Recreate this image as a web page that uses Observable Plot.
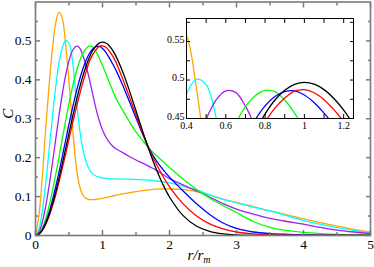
<!DOCTYPE html>
<html><head><meta charset="utf-8">
<script src="https://cdn.jsdelivr.net/npm/d3@7"></script>
<script src="https://cdn.jsdelivr.net/npm/@observablehq/plot@0.6"></script>
<style>
body{margin:0;background:#fff;}
#wrap{position:relative;width:374px;height:267px;overflow:hidden;}
#wrap svg{position:absolute;font-family:"Liberation Serif","Times New Roman",serif;}
</style></head><body><div id="wrap"></div>
<script>
const r = [0,0.05,0.1,0.15,0.2,0.25,0.3,0.35,0.4,0.45,0.5,0.55,0.6,0.65,0.7,0.75,0.8,0.85,0.9,0.95,1.0,1.05,1.1,1.15,1.2,
  1.3,1.4,1.5,1.6,1.7,1.8,1.9,2.0,2.2,2.4,2.6,2.8,3.0,3.25,3.5,3.75,4.0,4.25,4.5,4.75,5.0];
const blackC = [0,0.0034,0.0134,0.0297,0.0519,0.0793,0.111,0.1464,0.1842,0.2234,0.263,0.302,0.3393,0.3741,0.4056,0.433,0.4559,0.474,0.4868,0.4945,0.497,0.4946,0.4875,0.4761,0.4609,
  0.4213,0.373,0.3204,0.2673,0.217,0.1715,0.1319,0.099,0.0517,0.0245,0.0106,0.0042,0.0016,0.0004,0.0001,0,0,0,0,0,0];
const redC = [0,0.0031,0.0124,0.0276,0.0483,0.0738,0.1035,0.137,0.1725,0.2095,0.2475,0.2855,0.322,0.3565,0.389,0.4175,0.445,0.4635,0.4765,0.4855,0.4875,0.4835,0.4745,0.4615,0.4455,
  0.403,0.357,0.31,0.263,0.221,0.185,0.153,0.125,0.082,0.051,0.03,0.017,0.009,0.004,0.0017,0.0007,0.0003,0,0,0,0];
const blueC = [0,0.0038,0.0151,0.0335,0.0583,0.0888,0.124,0.1624,0.203,0.2447,0.286,0.3257,0.3627,0.396,0.4248,0.4484,0.4664,0.4787,0.485,0.486,0.4805,0.4705,0.457,0.4415,0.425,
  0.387,0.345,0.302,0.26,0.222,0.193,0.17,0.15,0.115,0.082,0.054,0.032,0.018,0.009,0.005,0.003,0.0018,0.001,0.0006,0.0003,0.0002];
const greenC = [0,0.0049,0.0194,0.0428,0.0742,0.1121,0.155,0.201,0.248,0.295,0.3395,0.3798,0.415,0.4437,0.4655,0.4797,0.4865,0.485,0.474,0.457,0.437,0.416,0.394,0.373,0.353,
  0.322,0.293,0.266,0.244,0.223,0.206,0.19,0.175,0.145,0.119,0.096,0.077,0.059,0.036,0.021,0.013,0.008,0.005,0.003,0.002,0.001];
const purpleC = [0,0.0085,0.0335,0.073,0.124,0.183,0.245,0.307,0.3634,0.4118,0.449,0.474,0.486,0.484,0.466,0.439,0.405,0.366,0.328,0.296,0.271,0.253,0.24,0.23,0.223,
  0.213,0.203,0.194,0.186,0.177,0.168,0.157,0.146,0.13,0.115,0.099,0.082,0.068,0.055,0.044,0.036,0.029,0.021,0.014,0.009,0.005];
const cyanC = [0,0.0159,0.0615,0.1304,0.2135,0.3,0.379,0.443,0.482,0.501,0.494,0.452,0.365,0.285,0.228,0.192,0.171,0.159,0.153,0.15,0.148,0.147,0.146,0.1455,0.145,
  0.145,0.145,0.144,0.143,0.142,0.14,0.138,0.135,0.127,0.117,0.105,0.093,0.084,0.073,0.063,0.051,0.038,0.029,0.02,0.013,0.007];
const orangeC = [0,0.05,0.145,0.27,0.38,0.475,0.545,0.574,0.558,0.49,0.395,0.285,0.19,0.133,0.106,0.096,0.0925,0.092,0.0925,0.094,0.0955,0.0975,0.0995,0.1015,0.1035,
  0.107,0.11,0.113,0.1155,0.1175,0.119,0.1195,0.1195,0.118,0.113,0.104,0.093,0.085,0.074,0.063,0.053,0.043,0.033,0.024,0.016,0.009];

const seriesNames = ["orange","cyan","purple","green","blue","red","black"];
const seriesValues = [orangeC, cyanC, purpleC, greenC, blueC, redC, blackC];
const seriesColors = ["#ffa500","#00ffff","#a020f0","#00ff00","#0000ff","#ff0000","#000000"];

const xMajor = [0,1,2,3,4,5];
const xMinor = [0.5,1.5,2.5,3.5,4.5];
const yMajor = [0,0.1,0.2,0.3,0.4,0.5];
const yMinor = [0.05,0.15,0.25,0.35,0.45,0.55];
const yLabels = ["0","0.1","0.2","0.3","0.4","0.5"];

const insetXTicks = [0.4,0.5,0.6,0.7,0.8,0.9,1.0,1.1,1.2];
const insetXLabelVals = [0.4,0.6,0.8,1.0,1.2];
const insetXLabels = ["0.4","0.6","0.8","1","1.2"];
const insetYTicks = [0.45,0.475,0.5,0.525,0.55,0.575];
const insetYLabelVals = [0.45,0.5,0.55];
const insetYLabels = ["0.45","0.5","0.55"];

const tables = seriesNames.map((s, k) => r.map((x, i) => ({r: x, C: seriesValues[k][i]})));
const lineMarks = () => tables.map((t, k) =>
  Plot.line(t, {x: "r", y: "C", stroke: seriesColors[k], strokeWidth: 1.3, curve: "catmull-rom", clip: true}));

const frameGray = "#7a7a7a";
const blank = () => "";

const main = Plot.plot({
  width: 374, height: 267,
  marginLeft: 35, marginRight: 4, marginTop: 1.5, marginBottom: 32,
  x: {domain: [0, 5], label: null},
  y: {domain: [0, 0.6], label: null},
  style: {fontFamily: "Liberation Serif, serif", fontSize: "13.5px", background: "transparent", color: "black"},
  marks: [
    ...lineMarks(),
    Plot.frame({stroke: frameGray, strokeWidth: 1.6}),
    Plot.axisX(xMajor, {anchor: "bottom", tickSize: -5, tickPadding: 9, stroke: frameGray, strokeWidth: 1.5, fill: "black", label: null, tickFormat: d => String(d)}),
    Plot.axisX(xMinor, {anchor: "bottom", tickSize: -3, stroke: frameGray, strokeWidth: 1.5, label: null, tickFormat: blank}),
    Plot.axisX(xMajor, {anchor: "top", tickSize: -5, stroke: frameGray, strokeWidth: 1.5, label: null, tickFormat: blank}),
    Plot.axisX(xMinor, {anchor: "top", tickSize: -3, stroke: frameGray, strokeWidth: 1.5, label: null, tickFormat: blank}),
    Plot.axisY(yMajor, {anchor: "left", tickSize: -5, tickPadding: 9, stroke: frameGray, strokeWidth: 1.5, fill: "black", label: null, tickFormat: (d, i) => yLabels[i]}),
    Plot.axisY(yMinor, {anchor: "left", tickSize: -3, stroke: frameGray, strokeWidth: 1.5, label: null, tickFormat: blank}),
    Plot.axisY(yMajor, {anchor: "right", tickSize: -5, stroke: frameGray, strokeWidth: 1.5, label: null, tickFormat: blank}),
    Plot.axisY(yMinor, {anchor: "right", tickSize: -3, stroke: frameGray, strokeWidth: 1.5, label: null, tickFormat: blank}),
    Plot.text(["C"], {frameAnchor: "left", dx: -27, rotate: -90, text: d => d, fontStyle: "italic", fontSize: 15})
  ]
});
main.style.left = "0px"; main.style.top = "0px";
document.getElementById("wrap").appendChild(main);

// x axis title with subscript
const xt = d3.select(main).append("text")
  .attr("x", 199).attr("y", 260).attr("text-anchor", "middle")
  .attr("font-size", 15).attr("font-style", "italic").attr("fill", "black");
xt.append("tspan").text("r/r");
xt.append("tspan").attr("font-size", 10).attr("dy", 3).text("m");

const inset = Plot.plot({
  width: 190, height: 116,
  marginLeft: 22, marginRight: 1, marginTop: 1, marginBottom: 15,
  x: {domain: [0.4, 1.25], label: null},
  y: {domain: [0.45, 0.58], label: null},
  style: {fontFamily: "Liberation Serif, serif", fontSize: "10px", background: "transparent", color: "black"},
  marks: [
    Plot.frame({fill: "white"}),
    ...lineMarks(),
    Plot.frame({stroke: "black", strokeWidth: 1}),
    Plot.axisX(insetXTicks, {anchor: "bottom", tickSize: -4, label: null, tickFormat: blank}),
    Plot.axisX(insetXLabelVals, {anchor: "bottom", tickSize: 0, tickPadding: 3, label: null, tickFormat: (d, i) => insetXLabels[i]}),
    Plot.axisX(insetXTicks, {anchor: "top", tickSize: -4, label: null, tickFormat: blank}),
    Plot.axisY(insetYTicks, {anchor: "left", tickSize: -4, label: null, tickFormat: blank}),
    Plot.axisY(insetYLabelVals, {anchor: "left", tickSize: 0, tickPadding: 2, dy: -2, label: null, tickFormat: (d, i) => insetYLabels[i]}),
    Plot.axisY(insetYTicks, {anchor: "right", tickSize: -4, label: null, tickFormat: blank})
  ]
});
inset.style.left = "164px"; inset.style.top = "17px";
document.getElementById("wrap").appendChild(inset);
</script></body></html>
